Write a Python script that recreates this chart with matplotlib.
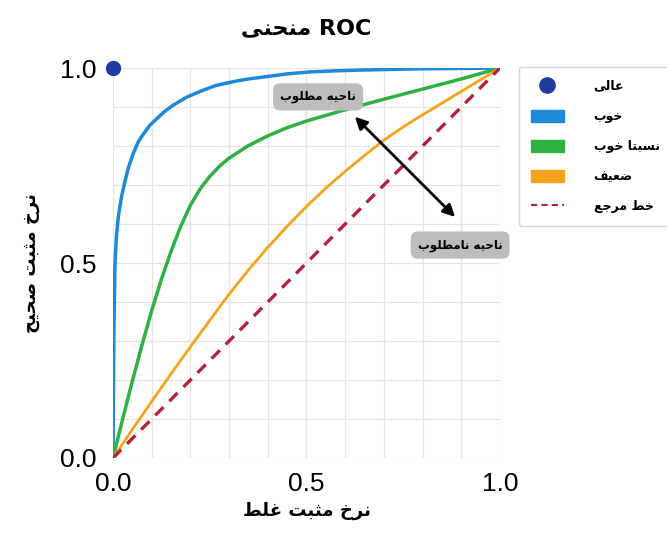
import matplotlib
matplotlib.use("Agg")
import matplotlib.pyplot as plt
from matplotlib.lines import Line2D
from matplotlib.patches import Patch

# --- شکل دادن ساده به حروف فارسی (matplotlib خودش اتصال حروف را انجام نمی‌دهد) ---
# حرف: (تنها، پایانی، آغازی، میانی) ؛ None یعنی به حرف بعدی وصل نمی‌شود
FORMS = {
    'ا': ('\uFE8D', '\uFE8E', None, None),
    'ب': ('\uFE8F', '\uFE90', '\uFE91', '\uFE92'),
    'ت': ('\uFE95', '\uFE96', '\uFE97', '\uFE98'),
    'ث': ('\uFE99', '\uFE9A', '\uFE9B', '\uFE9C'),
    'ج': ('\uFE9D', '\uFE9E', '\uFE9F', '\uFEA0'),
    'ح': ('\uFEA1', '\uFEA2', '\uFEA3', '\uFEA4'),
    'خ': ('\uFEA5', '\uFEA6', '\uFEA7', '\uFEA8'),
    'ر': ('\uFEAD', '\uFEAE', None, None),
    'س': ('\uFEB1', '\uFEB2', '\uFEB3', '\uFEB4'),
    'ص': ('\uFEB9', '\uFEBA', '\uFEBB', '\uFEBC'),
    'ض': ('\uFEBD', '\uFEBE', '\uFEBF', '\uFEC0'),
    'ط': ('\uFEC1', '\uFEC2', '\uFEC3', '\uFEC4'),
    'ع': ('\uFEC9', '\uFECA', '\uFECB', '\uFECC'),
    'غ': ('\uFECD', '\uFECE', '\uFECF', '\uFED0'),
    'ف': ('\uFED1', '\uFED2', '\uFED3', '\uFED4'),
    'ل': ('\uFEDD', '\uFEDE', '\uFEDF', '\uFEE0'),
    'م': ('\uFEE1', '\uFEE2', '\uFEE3', '\uFEE4'),
    'ن': ('\uFEE5', '\uFEE6', '\uFEE7', '\uFEE8'),
    'ه': ('\uFEE9', '\uFEEA', '\uFEEB', '\uFEEC'),
    'و': ('\uFEED', '\uFEEE', None, None),
    'ی': ('\uFEEF', '\uFEF0', '\uFEF3', '\uFEF4'),
}


def fa(text):
    out = []
    for i, ch in enumerate(text):
        if ch not in FORMS:
            out.append(ch)
            continue
        prev = text[i - 1] if i > 0 else ''
        nxt = text[i + 1] if i + 1 < len(text) else ''
        join_prev = prev in FORMS and FORMS[prev][2] is not None
        join_next = FORMS[ch][2] is not None and nxt in FORMS
        iso, fin, ini, med = FORMS[ch]
        if join_prev and join_next:
            out.append(med)
        elif join_prev:
            out.append(fin)
        elif join_next:
            out.append(ini)
        else:
            out.append(iso)
    return ''.join(out)[::-1]


# --- داده‌ها (خوانده شده از تصویر) ---
blue_fpr = [0, 0.002, 0.005, 0.009, 0.014, 0.022, 0.031, 0.04, 0.052, 0.065, 0.078,
            0.095, 0.113, 0.135, 0.156, 0.19, 0.225, 0.265, 0.31, 0.35, 0.397,
            0.45, 0.509, 0.58, 0.65, 0.8, 1.0]
blue_tpr = [0, 0.30, 0.495, 0.57, 0.62, 0.67, 0.71, 0.745, 0.78, 0.81, 0.83,
            0.853, 0.87, 0.89, 0.905, 0.925, 0.94, 0.955, 0.965, 0.972, 0.978,
            0.985, 0.99, 0.993, 0.995, 0.998, 1.0]

green_fpr = [0, 0.025, 0.05, 0.075, 0.1, 0.125, 0.15, 0.175, 0.2, 0.225, 0.25,
             0.275, 0.3, 0.35, 0.4, 0.45, 0.5, 0.6, 0.7, 0.8, 0.9, 1.0]
green_tpr = [0, 0.10, 0.197, 0.29, 0.378, 0.458, 0.53, 0.594, 0.648, 0.69, 0.722,
             0.748, 0.769, 0.801, 0.826, 0.847, 0.864, 0.893, 0.92, 0.946, 0.972, 1.0]

orange_fpr = [0, 0.05, 0.1, 0.15, 0.2, 0.25, 0.3, 0.35, 0.4, 0.45, 0.5,
              0.55, 0.6, 0.65, 0.7, 0.75, 0.8, 0.85, 0.9, 0.95, 1.0]
orange_tpr = [0, 0.073, 0.145, 0.216, 0.285, 0.353, 0.42, 0.482, 0.54, 0.594, 0.645,
              0.692, 0.735, 0.776, 0.815, 0.849, 0.88, 0.91, 0.94, 0.97, 1.0]

ref_fpr = [0, 1]
ref_tpr = [0, 1]

ideal_point = (0, 1)

ticks = [0.0, 0.5, 1.0]
tick_labels = ['0.0', '0.5', '1.0']

legend_labels = ['عالی', 'خوب', 'نسبتا خوب', 'ضعیف', 'خط مرجع']

# رنگ‌ها
c_ideal = '#1f3c9e'
c_blue = '#1c8ad8'
c_green = '#2eb043'
c_orange = '#f5a21c'
c_ref = '#b3213a'

fig = plt.figure(figsize=(6.67, 5.42), dpi=100)
ax = fig.add_axes([0.1694, 0.155, 0.5802, 0.7195])

ax.plot(blue_fpr, blue_tpr, color=c_blue, lw=2.5, solid_joinstyle='round')
ax.plot(green_fpr, green_tpr, color=c_green, lw=2.5, solid_joinstyle='round')
ax.plot(orange_fpr, orange_tpr, color=c_orange, lw=2.0, solid_joinstyle='round')
ax.plot(ref_fpr, ref_tpr, color=c_ref, lw=2.4, linestyle=(0, (3.5, 2.5)))
ax.plot(*ideal_point, 'o', color=c_ideal, ms=10, clip_on=False, zorder=5)

ax.set_xlim(0, 1)
ax.set_ylim(0, 1)
ax.set_xticks([i / 10 for i in range(11)], minor=True)
ax.set_yticks([i / 10 for i in range(11)], minor=True)
ax.set_xticks(ticks)
ax.set_yticks(ticks)
ax.set_xticklabels(tick_labels, fontsize=19, family='Liberation Sans')
ax.set_yticklabels(tick_labels, fontsize=19, family='Liberation Sans')
ax.tick_params(which='both', length=0)
ax.tick_params(axis='x', pad=10)
ax.tick_params(axis='y', pad=12)
ax.grid(which='both', color='#e8e2e2', lw=0.9)
ax.set_axisbelow(True)
for s in ax.spines.values():
    s.set_visible(False)

ax.set_title(fa('منحنی') + ' ROC', fontsize=16, fontweight='bold', pad=24)
ax.set_xlabel(fa('نرخ مثبت غلط'), fontsize=13, fontweight='bold', labelpad=4)
ax.set_ylabel(fa('نرخ مثبت صحیح'), fontsize=13, fontweight='bold', labelpad=14)

box = dict(boxstyle='round,pad=0.6', fc='#bdbdbd', ec='none')
ax.text(0.53, 0.926, fa('ناحیه مطلوب'), fontsize=8.5, fontweight='bold',
        ha='center', va='center', bbox=box, zorder=6)
ax.text(0.897, 0.546, fa('ناحیه نامطلوب'), fontsize=8.5, fontweight='bold',
        ha='center', va='center', bbox=box, zorder=6)
ax.annotate('', xy=(0.625, 0.875), xytext=(0.884, 0.618),
            arrowprops=dict(arrowstyle='<|-|>', color='black', lw=2,
                            mutation_scale=18, shrinkA=0, shrinkB=0))

handles = [
    Line2D([], [], marker='o', color=c_ideal, linestyle='none', markersize=11),
    Patch(color=c_blue),
    Patch(color=c_green),
    Patch(color=c_orange),
    Line2D([], [], color=c_ref, lw=1.5, linestyle=(0, (3, 2))),
]
leg = fig.legend(handles, [fa(l) for l in legend_labels],
                 loc='upper left', bbox_to_anchor=(0.768, 0.888),
                 prop=dict(size=9, weight='bold'), frameon=True,
                 handlelength=2.6, handleheight=1.1, labelspacing=1.35,
                 borderpad=1.0, handletextpad=2.4, fancybox=True)
leg.get_frame().set_edgecolor('#cccccc')

fig.savefig('out.png', dpi=100)
